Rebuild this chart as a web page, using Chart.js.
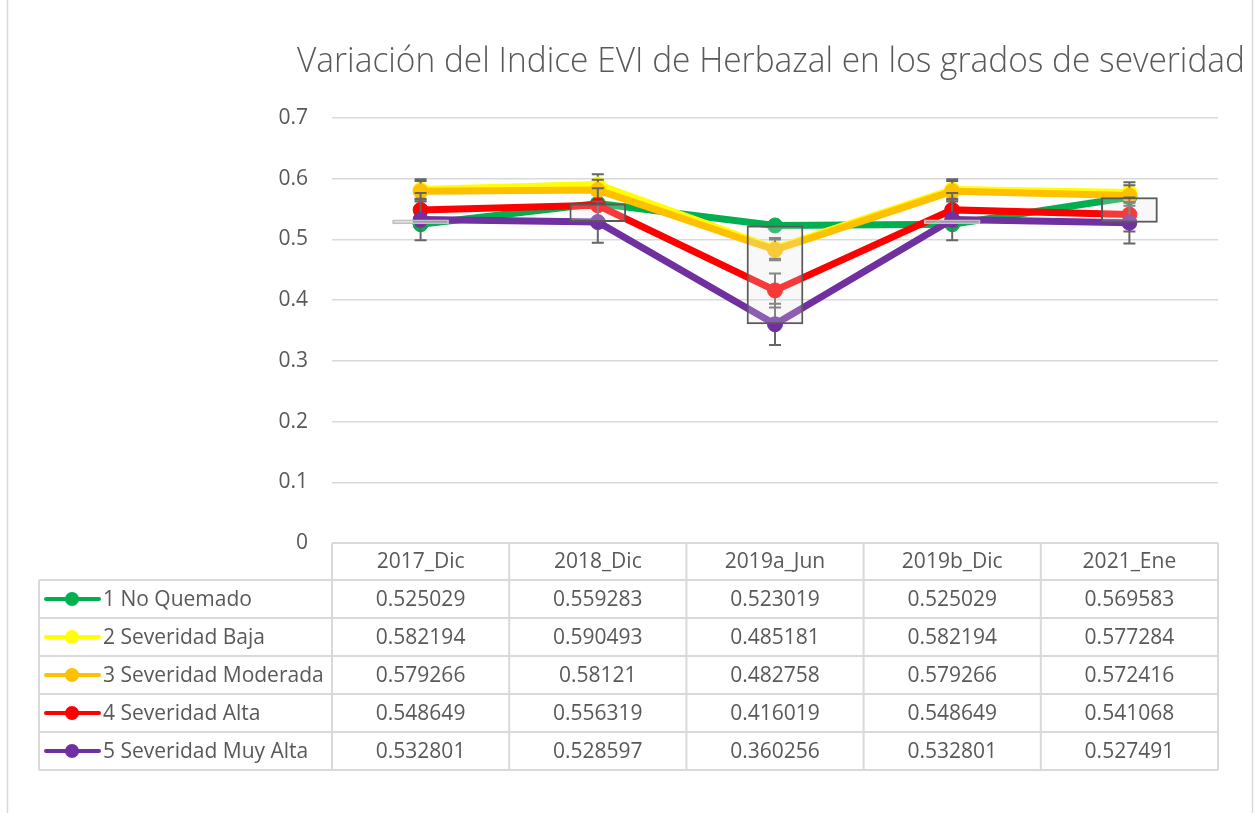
<!DOCTYPE html>
<html><head><meta charset="utf-8">
<script src="https://cdn.jsdelivr.net/npm/chart.js@4/dist/chart.umd.min.js"></script>
<style>html,body{margin:0;padding:0;background:#fff;}#wrap{position:relative;width:1259px;height:813px;}</style>
</head><body><div id="wrap"><canvas id="c" width="1259" height="813"></canvas></div>
<script>
const chartTitle = "Variación del Indice EVI de Herbazal en los grados de severidad";
const categories = ["2017_Dic", "2018_Dic", "2019a_Jun", "2019b_Dic", "2021_Ene"];
const seriesNames = ["1 No Quemado", "2 Severidad Baja", "3 Severidad Moderada", "4 Severidad Alta", "5 Severidad Muy Alta"];
const noQuemado = [0.525029, 0.559283, 0.523019, 0.525029, 0.569583];
const severidadBaja = [0.582194, 0.590493, 0.485181, 0.582194, 0.577284];
const severidadModerada = [0.579266, 0.58121, 0.482758, 0.579266, 0.572416];
const severidadAlta = [0.548649, 0.556319, 0.416019, 0.548649, 0.541068];
const severidadMuyAlta = [0.532801, 0.528597, 0.360256, 0.532801, 0.527491];
const errorAmounts = [0, 0.017, 0.017, 0.028, 0.034];
const yTickValues = [0, 0.1, 0.2, 0.3, 0.4, 0.5, 0.6, 0.7];

const seriesValues = [noQuemado, severidadBaja, severidadModerada, severidadAlta, severidadMuyAlta];
const seriesColors = ["#00B050", "#FFFF00", "#FFC000", "#FF0000", "#7030A0"];
const FONT = "'Open Sans', 'DejaVu Sans', sans-serif";
const TXT = "#595959";
const GRID = "#d9d9d9";

const upDown = categories.map((_, i) => [noQuemado[i], severidadMuyAlta[i]]);
const isUp = upDown.map(p => p[1] >= p[0]);

const datasets = seriesValues.map((vals, k) => ({
  type: 'line',
  label: seriesNames[k],
  data: vals,
  borderColor: seriesColors[k],
  backgroundColor: seriesColors[k],
  pointBackgroundColor: seriesColors[k],
  pointBorderColor: seriesColors[k],
  borderWidth: 7,
  pointRadius: 7.5,
  pointBorderWidth: 1,
  tension: 0,
  errorAmount: errorAmounts[k],
  order: 5 - k
}));
datasets.push({
  type: 'bar',
  label: 'updown',
  data: upDown,
  backgroundColor: isUp.map(u => u ? 'rgba(255,255,255,0.3)' : 'rgba(228,228,228,0.25)'),
  borderColor: isUp.map(u => u ? '#bfbfbf' : '#595959'),
  borderWidth: 2,
  borderSkipped: false,
  barPercentage: 0.32,
  categoryPercentage: 1.0,
  order: 0
});

const errorBars = {
  id: 'errorBars',
  beforeDatasetDraw(chart, args) {
    const ds = chart.data.datasets[args.index];
    if (!ds.errorAmount) return;
    const ctx = chart.ctx, ys = chart.scales.y;
    ctx.save();
    ctx.strokeStyle = '#666666';
    ctx.lineWidth = 2;
    args.meta.data.forEach((pt, i) => {
      const v = ds.data[i];
      const yt = ys.getPixelForValue(v + ds.errorAmount);
      const yb = ys.getPixelForValue(v - ds.errorAmount);
      ctx.beginPath();
      ctx.moveTo(pt.x, yt); ctx.lineTo(pt.x, yb);
      ctx.moveTo(pt.x - 6, yt); ctx.lineTo(pt.x + 6, yt);
      ctx.moveTo(pt.x - 6, yb); ctx.lineTo(pt.x + 6, yb);
      ctx.stroke();
    });
    ctx.restore();
  }
};

const frame = {
  id: 'frame',
  afterDraw(chart) {
    const ctx = chart.ctx, xs = chart.scales.x, ca = chart.chartArea;
    ctx.save();
    ctx.strokeStyle = GRID; ctx.lineWidth = 1.5;
    ctx.beginPath(); ctx.moveTo(7.5, 0); ctx.lineTo(7.5, 813); ctx.moveTo(1252.5, 0); ctx.lineTo(1252.5, 813); ctx.stroke();
    // title (compressed horizontally to mimic a narrow font)
    ctx.fillStyle = TXT;
    const tSize = 34;
    ctx.font = "300 " + tSize + "px " + FONT;
    const tw = ctx.measureText(chartTitle).width;
    const sx = 948 / tw;
    ctx.save();
    ctx.translate(771, 72);
    ctx.scale(sx, 1);
    ctx.textAlign = 'center'; ctx.textBaseline = 'alphabetic';
    ctx.fillText(chartTitle, 0, 0);
    ctx.restore();
    // data table
    const n = categories.length;
    const cw = (xs.right - xs.left) / n;
    const top = ca.bottom, hdrH = 37, rowH = 38;
    const legLeft = 39;
    const rowsTop = top + hdrH, bottom = rowsTop + rowH * seriesNames.length;
    ctx.strokeStyle = GRID; ctx.lineWidth = 2;
    ctx.beginPath();
    ctx.moveTo(xs.left, top); ctx.lineTo(xs.right, top);
    for (let r = 0; r <= seriesNames.length; r++) {
      const y = rowsTop + r * rowH;
      ctx.moveTo(legLeft, y); ctx.lineTo(xs.right, y);
    }
    for (let c = 0; c <= n; c++) {
      const x = xs.left + c * cw;
      ctx.moveTo(x, top); ctx.lineTo(x, bottom);
    }
    ctx.moveTo(legLeft, rowsTop); ctx.lineTo(legLeft, bottom);
    ctx.stroke();
    ctx.font = "21px " + FONT;
    ctx.fillStyle = TXT;
    ctx.textBaseline = 'middle';
    ctx.textAlign = 'center';
    categories.forEach((c, i) => ctx.fillText(c, xs.getPixelForValue(i), top + hdrH / 2 + 1));
    seriesValues.forEach((vals, k) => {
      const yc = rowsTop + k * rowH + rowH / 2 + 1;
      vals.forEach((v, i) => ctx.fillText(String(v), xs.getPixelForValue(i), yc));
    });
    ctx.textAlign = 'left';
    seriesNames.forEach((name, k) => {
      const yc = rowsTop + k * rowH + rowH / 2;
      ctx.strokeStyle = seriesColors[k]; ctx.lineWidth = 4; ctx.lineCap = 'round';
      ctx.beginPath(); ctx.moveTo(46, yc); ctx.lineTo(99, yc); ctx.stroke();
      ctx.fillStyle = seriesColors[k];
      ctx.beginPath(); ctx.arc(72, yc, 7, 0, Math.PI * 2); ctx.fill();
      ctx.fillStyle = TXT;
      ctx.fillText(name, 103, yc + 1);
    });
    ctx.restore();
  }
};

new Chart(document.getElementById('c'), {
  type: 'line',
  data: { labels: categories, datasets },
  options: {
    responsive: false,
    animation: false,
    devicePixelRatio: 1,
    layout: { padding: { top: 118, bottom: 270, left: 0, right: 41 } },
    plugins: { legend: { display: false }, title: { display: false }, tooltip: { enabled: false } },
    scales: {
      x: { type: 'category', offset: true, display: false, grid: { display: false } },
      y: {
        min: 0, max: 0.7,
        afterBuildTicks(scale) { scale.ticks = yTickValues.map(v => ({ value: v })); },
        afterFit(scale) { scale.width = 332; },
        border: { display: false },
        grid: { color: GRID, lineWidth: 1.5, drawTicks: false },
        ticks: { padding: 24, color: TXT, font: { family: FONT, size: 21 }, callback: v => String(Math.round(v * 10) / 10) }
      }
    }
  },
  plugins: [errorBars, frame]
});
</script></body></html>
